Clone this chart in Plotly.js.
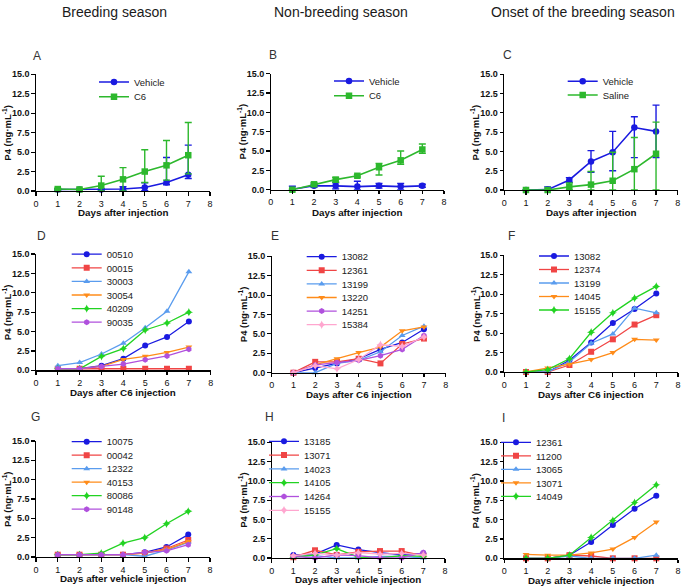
<!DOCTYPE html>
<html><head><meta charset="utf-8">
<script src="https://cdn.plot.ly/plotly-3.0.1.min.js"></script>
<style>html,body{margin:0;padding:0;background:#fff}#chart{width:685px;height:587px}</style>
</head><body><div id="chart"></div>
<script>
// ---------------- DATA ----------------
const days = [1, 2, 3, 4, 5, 6, 7];
const columnTitles = ["Breeding season", "Non-breeding season", "Onset of the breeding season"];
const panelLetters = ["A", "B", "C", "D", "E", "F", "G", "H", "I"];
const xAxisTitles = ["Days after injection", "Days after injection", "Days after injection",
  "Days after C6 injection", "Days after C6 injection", "Days after C6 injection",
  "Days after vehicle injection", "Days after vehicle injection", "Days after vehicle injection"];
const yAxisTitle = "P4 (ng·mL<sup>-1</sup>)";

// Panel A (breeding season, means with error bars)
const A_names = ["Vehicle", "C6"];
const A_vehicle = [0.2, 0.2, 0.2, 0.25, 0.45, 1.1, 2.1];
const A_vehicle_up = [0.1, 0.1, 0.1, 0.3, 0.6, 3.2, 3.8];
const A_vehicle_down = [0.1, 0.1, 0.1, 0.2, 0.4, 0.3, 0.5];
const A_c6 = [0.25, 0.2, 0.7, 1.5, 2.5, 3.3, 4.6];
const A_c6_up = [0.1, 0.1, 1.2, 1.5, 2.8, 3.2, 4.2];
const A_c6_down = [0.1, 0.1, 0.7, 1.5, 1.4, 1.9, 2.4];

// Panel B (non-breeding season)
const B_names = ["Vehicle", "C6"];
const B_vehicle = [0.05, 0.5, 0.5, 0.4, 0.5, 0.4, 0.5];
const B_vehicle_up = [0.4, 0.2, 0.4, 0.7, 0.3, 0.4, 0.2];
const B_vehicle_down = [0.05, 0.2, 0.4, 0.4, 0.3, 0.4, 0.2];
const B_c6 = [0, 0.7, 1.3, 1.8, 2.9, 3.8, 5.2];
const B_c6_up = [0.1, 0.2, 0.3, 0.15, 0.5, 1.2, 0.7];
const B_c6_down = [0, 0.2, 0.3, 0.15, 1.0, 0.5, 0.5];

// Panel C (onset of breeding season)
const C_names = ["Vehicle", "Saline"];
const C_vehicle = [0, 0.05, 1.3, 3.7, 4.9, 8.1, 7.6];
const C_vehicle_up = [0, 0.35, 0.3, 1.4, 2.7, 1.4, 3.4];
const C_vehicle_down = [0, 0.05, 0.3, 1.4, 2.4, 3.9, 3.4];
const C_saline = [0, 0, 0.4, 0.7, 1.2, 2.7, 4.7];
const C_saline_up = [0, 0, 0.5, 1.7, 3.7, 4.1, 4.1];
const C_saline_down = [0, 0, 0.4, 0.7, 1.2, 2.7, 4.7];

// Panel D (individual, C6, breeding)
const D_names = ["00510", "00015", "30003", "30054", "40209", "90035"];
const D_00510 = [0.2, 0.2, 0.6, 1.5, 3.2, 4.3, 6.3];
const D_00015 = [0.2, 0.2, 0.2, 0.2, 0.2, 0.2, 0.2];
const D_30003 = [0.6, 1.0, 2.1, 3.5, 5.5, 7.6, 12.7];
const D_30054 = [0.2, 0.2, 0.5, 1.4, 1.8, 2.3, 3.0];
const D_40209 = [0.2, 0.2, 1.8, 2.8, 5.2, 6.1, 7.5];
const D_90035 = [0.2, 0.2, 0.5, 0.8, 1.35, 1.85, 2.7];

// Panel E (individual, C6, non-breeding)
const E_names = ["13082", "12361", "13199", "13220", "14251", "15384"];
const E_13082 = [0, 0.6, 1.2, 1.8, 3.0, 3.9, 5.6];
const E_12361 = [0, 1.4, 1.4, 1.8, 1.2, 3.7, 4.4];
const E_13199 = [0, 0, 1.2, 1.6, 2.7, 4.8, 6.0];
const E_13220 = [0, 1.0, 1.8, 2.6, 3.3, 5.4, 5.9];
const E_14251 = [0, 1.0, 1.3, 1.6, 2.2, 3.0, 4.8];
const E_15384 = [0, 0.9, 0.5, 1.7, 3.6, 3.4, 4.6];

// Panel F (individual, C6, onset)
const F_names = ["13082", "12374", "13199", "14045", "15155"];
const F_13082 = [0, 0, 1.5, 3.8, 6.3, 8.1, 10.1];
const F_12374 = [0, 0, 0.9, 2.6, 4.2, 6.1, 7.3];
const F_13199 = [0, 0, 1.3, 3.7, 4.9, 8.2, 7.6];
const F_14045 = [0, 0.5, 1.0, 1.6, 2.5, 4.2, 4.1];
const F_15155 = [0, 0.3, 1.7, 5.1, 7.6, 9.5, 11.0];

// Panel G (individual, vehicle, breeding)
const G_names = ["10075", "00042", "12322", "40153", "80086", "90148"];
const G_10075 = [0.3, 0.3, 0.3, 0.3, 0.6, 1.3, 2.9];
const G_00042 = [0.3, 0.3, 0.3, 0.3, 0.5, 1.1, 2.2];
const G_12322 = [0.3, 0.3, 0.3, 0.3, 0.1, 0.9, 1.9];
const G_40153 = [0.3, 0.3, 0.3, 0.3, 0.5, 1.0, 2.0];
const G_80086 = [0.3, 0.3, 0.5, 1.8, 2.5, 4.3, 5.9];
const G_90148 = [0.3, 0.3, 0.3, 0.3, 0.6, 0.8, 1.6];

// Panel H (individual, vehicle, non-breeding)
const H_names = ["13185", "13071", "14023", "14105", "14264", "15155"];
const H_13185 = [0.4, 0.5, 1.7, 1.1, 0.7, 0.4, 0.6];
const H_13071 = [0.1, 1.0, 0.4, 0.8, 0.9, 0.9, 0.3];
const H_14023 = [0.2, 0.3, 0, 0, 0.2, 0.2, 0];
const H_14105 = [0.1, 0.4, 1.2, 0.1, 0, 0.3, 0.2];
const H_14264 = [0.2, 0, 0.4, 0.3, 0, 0, 0.7];
const H_15155 = [0.3, 0.6, 0.4, 0.7, 0.5, 0.6, 0.4];

// Panel I (individual, vehicle, onset)
const I_names = ["12361", "11200", "13065", "13071", "14049"];
const I_12361 = [0, 0, 0.4, 2.1, 4.3, 6.4, 8.1];
const I_11200 = [0, 0, 0.4, 0.3, 0, 0, 0];
const I_13065 = [0, 0, 0.3, 0, 0, 0, 0.4];
const I_13071 = [0.5, 0.4, 0.4, 0.7, 1.2, 2.7, 4.7];
const I_14049 = [0, 0, 0.4, 2.7, 4.9, 7.2, 9.5];

// ---------------- STYLE / LAYOUT ----------------
const W = 685, H = 587;
const FONT = "Liberation Sans, Arial, sans-serif";
const STY = {
  blue:   {c: "#1a1ae0", s: "circle"},
  red:    {c: "#f04545", s: "square"},
  lblue:  {c: "#5a9cee", s: "triangle-up"},
  orange: {c: "#ff8c1a", s: "triangle-down"},
  green:  {c: "#22d322", s: "star-diamond"},
  purple: {c: "#b050dd", s: "hexagon"},
  pink:   {c: "#ffa6cf", s: "star-diamond"},
  vgreen: {c: "#2db82d", s: "square"}
};
// pixel boxes of each panel: [left, right, top(15), bottom(0)]
const BOX = [
  [36, 210, 74.3, 191], [270.7, 444, 73.7, 189.7], [504.3, 677.7, 74.3, 190],
  [36, 210.7, 254, 370.3], [271.7, 445.7, 256.3, 372.7], [504.3, 678, 255.3, 372],
  [36, 210, 441, 557], [271.7, 445, 442.3, 558], [504.3, 678, 442.3, 558.3]
];
const XTITLE_Y = [213, 212.7, 212.7, 392.7, 394.7, 394, 578.5, 579.8, 580.8];
const LETTER_POS = [[37, 56], [273, 55], [507, 55], [41.7, 236], [275, 236], [511, 236], [35, 417], [269, 417], [504, 418]];
// legend text start x and first-item y, item step
const LEG = [
  [134, 82, 14.7], [369, 81, 14.7], [602.7, 81.3, 13.7],
  [106.7, 254.2, 13.6], [341.7, 256.7, 13.6], [574, 256, 13.5],
  [106.7, 441.7, 13.5], [304, 441.3, 13.8], [536, 442.3, 13.5]
];

const panelSeries = [
  [{n: A_names[0], y: A_vehicle, up: A_vehicle_up, dn: A_vehicle_down, k: "blue"},
   {n: A_names[1], y: A_c6, up: A_c6_up, dn: A_c6_down, k: "vgreen"}],
  [{n: B_names[0], y: B_vehicle, up: B_vehicle_up, dn: B_vehicle_down, k: "blue"},
   {n: B_names[1], y: B_c6, up: B_c6_up, dn: B_c6_down, k: "vgreen"}],
  [{n: C_names[0], y: C_vehicle, up: C_vehicle_up, dn: C_vehicle_down, k: "blue"},
   {n: C_names[1], y: C_saline, up: C_saline_up, dn: C_saline_down, k: "vgreen"}],
  [[D_00510, "blue"], [D_00015, "red"], [D_30003, "lblue"], [D_30054, "orange"], [D_40209, "green"], [D_90035, "purple"]].map((d, i) => ({n: D_names[i], y: d[0], k: d[1]})),
  [[E_13082, "blue"], [E_12361, "red"], [E_13199, "lblue"], [E_13220, "orange"], [E_14251, "purple"], [E_15384, "pink"]].map((d, i) => ({n: E_names[i], y: d[0], k: d[1]})),
  [[F_13082, "blue"], [F_12374, "red"], [F_13199, "lblue"], [F_14045, "orange"], [F_15155, "green"]].map((d, i) => ({n: F_names[i], y: d[0], k: d[1]})),
  [[G_10075, "blue"], [G_00042, "red"], [G_12322, "lblue"], [G_40153, "orange"], [G_80086, "green"], [G_90148, "purple"]].map((d, i) => ({n: G_names[i], y: d[0], k: d[1]})),
  [[H_13185, "blue"], [H_13071, "red"], [H_14023, "lblue"], [H_14105, "green"], [H_14264, "purple"], [H_15155, "pink"]].map((d, i) => ({n: H_names[i], y: d[0], k: d[1]})),
  [[I_12361, "blue"], [I_11200, "red"], [I_13065, "lblue"], [I_13071, "orange"], [I_14049, "green"]].map((d, i) => ({n: I_names[i], y: d[0], k: d[1]}))
];

const LEG_DX = 40; // distance from legend box left to legend text
const layout = {
  width: W, height: H, margin: {l: 0, r: 0, t: 0, b: 0},
  paper_bgcolor: "#fff", plot_bgcolor: "rgba(0,0,0,0)",
  showlegend: true, font: {family: FONT, color: "#111"},
  annotations: []
};
const traces = [];
let legN = 0;

BOX.forEach((b, p) => {
  const sfx = p === 0 ? "" : String(p + 1);
  const xa = "xaxis" + sfx, ya = "yaxis" + sfx;
  layout[xa] = {
    domain: [b[0] / W, b[1] / W], anchor: "y" + sfx, range: [0, 8], dtick: 1, tick0: 0,
    showgrid: false, zeroline: false, showline: true, linecolor: "#000", linewidth: 1.2,
    ticks: "outside", ticklen: 3.5, tickwidth: 1.2, tickcolor: "#000",
    tickfont: {family: FONT, size: 9, color: "#111"}, fixedrange: true
  };
  layout[ya] = {
    domain: [1 - b[3] / H, 1 - b[2] / H], anchor: "x" + sfx, range: [0, 15], dtick: 2.5, tick0: 0,
    tickformat: ".1f", showgrid: false, zeroline: false, showline: true, linecolor: "#000", linewidth: 1.2,
    ticks: "outside", ticklen: 3.5, tickwidth: 1.2, tickcolor: "#000",
    tickfont: {family: FONT, size: 9, color: "#111", weight: "bold"}, fixedrange: true
  };
  const withErr = p < 3;
  panelSeries[p].forEach((s, i) => {
    legN++;
    const lg = legN === 1 ? "legend" : "legend" + legN;
    const st = STY[s.k];
    const tr = {
      type: "scatter", mode: "lines+markers", x: days, y: s.y, name: s.n,
      xaxis: "x" + sfx, yaxis: "y" + sfx, legend: lg, cliponaxis: false,
      line: {color: st.c, width: withErr ? 1.6 : 1.3},
      marker: {color: st.c, symbol: st.s, size: withErr ? 6.5 : 6, line: {width: 0}}
    };
    if (withErr) {
      tr.error_y = {type: "data", symmetric: false, array: s.up, arrayminus: s.dn,
        color: st.c, thickness: 1.4, width: 3.5};
    }
    traces.push(tr);
    const L = LEG[p];
    layout[lg] = {
      x: (L[0] - LEG_DX) / W, y: 1 - (L[1] + i * L[2]) / H, xanchor: "left", yanchor: "middle",
      bgcolor: "rgba(0,0,0,0)", borderwidth: 0, font: {family: FONT, size: 9.5, color: "#222"},
      itemclick: false, itemdoubleclick: false
    };
  });
  // x axis title
  layout.annotations.push({
    xref: "paper", yref: "paper", x: (b[0] + b[1]) / 2 / W, y: 1 - XTITLE_Y[p] / H,
    xanchor: "center", yanchor: "middle", showarrow: false, text: xAxisTitles[p],
    font: {family: FONT, size: 9.8, color: "#111", weight: "bold"}
  });
  // y axis title
  layout.annotations.push({
    xref: "paper", yref: "paper", x: (b[0] - 29) / W, y: 1 - (b[2] + b[3]) / 2 / H,
    xanchor: "center", yanchor: "middle", showarrow: false, text: yAxisTitle, textangle: -90,
    font: {family: FONT, size: 9.5, color: "#111", weight: "bold"}
  });
  // panel letter
  layout.annotations.push({
    xref: "paper", yref: "paper", x: LETTER_POS[p][0] / W, y: 1 - LETTER_POS[p][1] / H,
    xanchor: "center", yanchor: "middle", showarrow: false, text: panelLetters[p],
    font: {family: FONT, size: 12, color: "#333"}
  });
});

const COL_X = [115, 341, 583];
columnTitles.forEach((t, c) => {
  layout.annotations.push({
    xref: "paper", yref: "paper", x: COL_X[c] / W, y: 1 - 12 / H,
    xanchor: "center", yanchor: "middle", showarrow: false, text: t,
    font: {family: FONT, size: 14, color: "#1a1a1a"}
  });
});

Plotly.newPlot("chart", traces, layout, {staticPlot: true, displayModeBar: false});
</script>
</body></html>
